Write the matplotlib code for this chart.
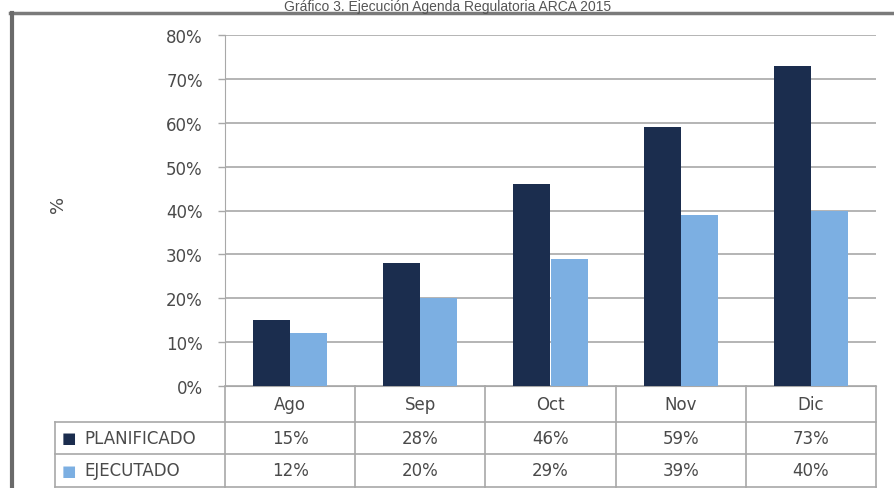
#!/usr/bin/env python3

import matplotlib
matplotlib.use("Agg")
import matplotlib.pyplot as plt
import matplotlib.ticker as ticker
from matplotlib.lines import Line2D

# datos del gráfico
meses = ["Ago", "Sep", "Oct", "Nov", "Dic"]
planificado = [15, 28, 46, 59, 73]
ejecutado = [12, 20, 29, 39, 40]
series = ["PLANIFICADO", "EJECUTADO"]
titulo = "Gráfico 3. Ejecución Agenda Regulatoria ARCA 2015"

c_plan = "#1b2d4e"
c_ejec = "#7cafe2"
gris = "#a8a8a8"
txt = "#4a4a4a"


def draw():
    plt.rcParams['font.family'] = 'DejaVu Sans'
    fig = plt.figure(figsize=(8.95, 4.89), dpi=100)
    ax = fig.add_axes([225/895, 1 - 387/489, 651/895, 351/489])

    x = list(range(len(meses)))
    w = 0.285
    ax.bar([i - w/2 for i in x], planificado, w, color=c_plan, zorder=3)
    ax.bar([i + w/2 for i in x], ejecutado, w, color=c_ejec, zorder=3)

    ax.set_xlim(-0.5, len(meses) - 0.5)
    ax.set_ylim(0, 80)
    ax.yaxis.set_major_locator(ticker.MultipleLocator(10))
    ax.yaxis.set_major_formatter(ticker.PercentFormatter(decimals=0))
    ax.grid(True, axis='y', color=gris, linewidth=1.2, zorder=0)
    ax.set_xticks([])
    ax.tick_params(axis='y', direction='out', length=5, width=1, color=gris,
                   pad=11, labelsize=12, labelcolor=txt)
    for s in ['top', 'right']:
        ax.spines[s].set_visible(False)
    ax.spines['left'].set_color(gris)
    ax.spines['bottom'].set_color(gris)
    ax.set_ylabel("%", fontsize=13, color=txt, labelpad=0)
    ax.yaxis.set_label_coords(-(225 - 67) / 651, 0.52)

    # tabla de datos debajo del eje
    tr = ax.get_xaxis_transform()
    h0, h1, h2, h3 = 0, -36/351, -68/351, -101/351
    izq = -0.5 - 170/130.2
    der = len(meses) - 0.5
    kw = dict(color=gris, linewidth=1.2, transform=tr, clip_on=False)
    for i in range(len(meses) + 1):
        ax.plot([i - 0.5, i - 0.5], [h0, h3], **kw)
    ax.plot([izq, izq], [h1, h3], **kw)
    for h in [h1, h2, h3]:
        ax.plot([izq, der], [h, h], **kw)

    for i, m in enumerate(meses):
        ax.text(i, (h0 + h1)/2, m, transform=tr, ha='center', va='center',
                fontsize=12, color=txt)
        ax.text(i, (h1 + h2)/2, f"{planificado[i]}%", transform=tr,
                ha='center', va='center', fontsize=12, color=txt)
        ax.text(i, (h2 + h3)/2, f"{ejecutado[i]}%", transform=tr,
                ha='center', va='center', fontsize=12, color=txt)

    for nombre, col, (a, b) in zip(series, [c_plan, c_ejec], [(h1, h2), (h2, h3)]):
        ax.text(-0.5 - 163/130.2, (a + b)/2, "■", transform=tr, ha='left',
                va='center', fontsize=11, color=col)
        ax.text(-0.5 - 141/130.2, (a + b)/2, nombre, transform=tr, ha='left',
                va='center', fontsize=12, color=txt)

    # marco exterior
    fig.add_artist(Line2D([10/895, 1], [1 - 14/489, 1 - 14/489],
                          color="#7a7a7a", linewidth=2.5))
    fig.add_artist(Line2D([12/895, 12/895], [0, 1 - 14/489],
                          color="#6a6a6a", linewidth=3))

    fig.text(0.5, 1 - 0.5/489, titulo, ha='center', va='top',
             fontsize=10, color="#555555", family='Liberation Sans')

    fig.savefig('out.png', dpi=100)


if __name__ == "__main__":
    draw()
